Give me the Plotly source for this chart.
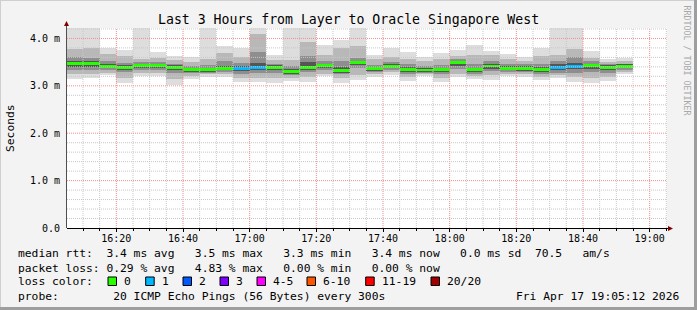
import plotly.graph_objects as go
import pandas as pd

# ---------------- data ----------------
bin_start = pd.date_range("2026-04-17 16:05:00", periods=34, freq="5min")

median_ms = [3.47, 3.47, 3.41, 3.39, 3.43, 3.43, 3.39, 3.34, 3.34, 3.37, 3.36, 3.39, 3.39, 3.30, 3.39, 3.43, 3.32,
             3.49, 3.36, 3.41, 3.34, 3.33, 3.34, 3.49, 3.34, 3.42, 3.37, 3.37, 3.34, 3.39, 3.41, 3.43, 3.39, 3.41]
loss_pings = [0, 0, 0, 0, 0, 0, 0, 0, 0, 0, 1, 1, 0, 0, 0, 0, 0,
              0, 0, 0, 0, 0, 0, 0, 0, 0, 0, 0, 0, 1, 1, 0, 0, 0]
ping_max = [4.30, 4.30, 3.80, 3.76, 4.30, 3.72, 3.62, 3.60, 4.30, 3.85, 3.79, 4.30, 3.65, 4.30, 4.30, 3.87, 3.96,
            4.30, 3.65, 3.79, 3.71, 3.61, 3.69, 3.75, 3.86, 3.74, 3.67, 3.60, 3.79, 4.30, 4.30, 3.74, 3.57, 3.58]
ping_min = [3.14, 3.16, 3.22, 3.05, 3.21, 3.21, 3.01, 3.14, 3.19, 3.18, 3.09, 3.08, 3.06, 3.11, 3.09, 3.20, 3.07,
            3.13, 3.18, 3.23, 3.10, 3.20, 3.09, 3.18, 3.14, 3.13, 3.20, 3.19, 3.12, 3.16, 3.09, 3.07, 3.10, 3.24]
band2_hi = [3.78, 3.80, 3.68, 3.62, 3.57, 3.58, 3.55, 3.50, 3.57, 3.69, 3.60, 4.09, 3.55, 3.55, 3.92, 3.64, 3.80,
            3.85, 3.57, 3.61, 3.57, 3.52, 3.57, 3.62, 3.64, 3.64, 3.57, 3.53, 3.62, 3.66, 3.78, 3.58, 3.50, 3.52]
band2_lo = [3.24, 3.24, 3.27, 3.17, 3.27, 3.27, 3.14, 3.20, 3.24, 3.24, 3.16, 3.16, 3.16, 3.17, 3.18, 3.26, 3.16,
            3.22, 3.24, 3.29, 3.19, 3.24, 3.17, 3.25, 3.21, 3.22, 3.25, 3.24, 3.19, 3.22, 3.18, 3.16, 3.18, 3.29]
band3_hi = [3.60, 3.58, 3.52, 3.48, 3.50, 3.50, 3.46, 3.42, 3.44, 3.52, 3.48, 3.72, 3.47, 3.42, 3.62, 3.52, 3.52,
            3.58, 3.44, 3.50, 3.45, 3.42, 3.44, 3.56, 3.47, 3.52, 3.47, 3.45, 3.46, 3.52, 3.60, 3.52, 3.45, 3.47]
band3_lo = [3.34, 3.33, 3.33, 3.29, 3.34, 3.34, 3.28, 3.27, 3.28, 3.30, 3.26, 3.27, 3.28, 3.23, 3.29, 3.33, 3.24,
            3.37, 3.29, 3.34, 3.26, 3.27, 3.25, 3.36, 3.26, 3.32, 3.30, 3.29, 3.25, 3.28, 3.28, 3.30, 3.28, 3.34]
band4_hi = [3.52, 3.52, 3.46, 3.44, 3.47, 3.47, 3.43, 3.38, 3.38, 3.42, 3.41, 3.48, 3.43, 3.36, 3.50, 3.47, 3.40,
            3.53, 3.40, 3.45, 3.39, 3.37, 3.38, 3.53, 3.38, 3.46, 3.41, 3.41, 3.39, 3.45, 3.48, 3.47, 3.43, 3.45]
band4_lo = [3.40, 3.40, 3.37, 3.34, 3.38, 3.38, 3.33, 3.30, 3.30, 3.33, 3.31, 3.33, 3.33, 3.26, 3.34, 3.38, 3.28,
            3.43, 3.32, 3.37, 3.30, 3.29, 3.29, 3.42, 3.29, 3.36, 3.33, 3.32, 3.29, 3.33, 3.35, 3.36, 3.33, 3.37]

loss_labels = ["0", "1", "2", "3", "4-5", "6-10", "11-19", "20/20"]
loss_colors = ["#26ff00", "#00b8ff", "#0059ff", "#7e00ff", "#ff00ff", "#ff5500", "#ff0000", "#a10000"]

y_tickvals = [0, 1, 2, 3, 4]
y_ticktext = ["0.0", "1.0 m", "2.0 m", "3.0 m", "4.0 m"]

title_text = "Last 3 Hours from Layer to Oracle Singapore West"
line_rtt = "median rtt:  3.4 ms avg   3.5 ms max   3.3 ms min   3.4 ms now   0.0 ms sd  70.5   am/s"
line_loss = "packet loss: 0.29 % avg   4.83 % max   0.00 % min   0.00 % now"
line_probe = "probe:        20 ICMP Echo Pings (56 Bytes) every 300s"
stamp_text = "Fri Apr 17 19:05:12 2026"
watermark = "RRDTOOL / TOBI OETIKER"

# ---------------- geometry ----------------
W, H = 697, 310
L, R, T, B = 67, 667, 28, 228
t0 = pd.Timestamp("2026-04-17 16:05:12")
t1 = pd.Timestamp("2026-04-17 19:05:12")
YMAX = 4.22
MONO = "DejaVu Sans Mono"


def px(x):
    return (x - L) / (R - L)


def py(y):
    return (B - y) / (B - T)


def sp(s):
    return s.replace(" ", "\u00a0")


centers = [t + pd.Timedelta(minutes=2.5) for t in bin_start]
bw = 300000

fig = go.Figure()
layers = [
    (ping_min, ping_max, "#dddddd"),
    (band2_lo, band2_hi, "#b8b8b8"),
    (band3_lo, band3_hi, "#8e8e8e"),
    (band4_lo, band4_hi, "#555555"),
]
for lo, hi, col in layers:
    fig.add_trace(go.Bar(x=centers, base=lo, y=[h - l for l, h in zip(lo, hi)], width=bw,
                         marker=dict(color=col, line=dict(width=0)), showlegend=False, hoverinfo="skip"))

thick = 0.055
med_cols = [loss_colors[n] for n in loss_pings]
fig.add_trace(go.Bar(x=centers, base=[m - thick / 2 for m in median_ms], y=[thick] * len(median_ms), width=bw,
                     marker=dict(color=med_cols, line=dict(width=0)), showlegend=False, hoverinfo="skip"))

shapes = []
# vertical grid
tt = pd.Timestamp("2026-04-17 16:10:00")
while tt <= t1:
    major = (tt.minute % 20 == 0)
    shapes.append(dict(type="line", xref="x", yref="paper", x0=tt, x1=tt, y0=0, y1=1, layer="above",
                       line=dict(color="#f09090" if major else "#c8c8c8", width=1, dash="1px,1px")))
    tt += pd.Timedelta(minutes=5)
# horizontal grid
for k in range(1, 22):
    v = k * 0.2
    major = (k % 5 == 0)
    shapes.append(dict(type="line", xref="paper", yref="y", x0=0, x1=1, y0=v, y1=v, layer="above",
                       line=dict(color="#f09090" if major else "#c8c8c8", width=1, dash="1px,1px")))
# axes lines
shapes.append(dict(type="line", xref="paper", yref="paper", x0=px(L), x1=px(670), y0=py(B + 0.5), y1=py(B + 0.5),
                   layer="above", line=dict(color="#000000", width=1)))
shapes.append(dict(type="line", xref="paper", yref="paper", x0=px(L - 0.5), x1=px(L - 0.5), y0=py(B), y1=py(23),
                   layer="above", line=dict(color="#505050", width=1)))
# arrows
shapes.append(dict(type="path", xref="paper", yref="paper", layer="above",
                   path=f"M {px(668)} {py(226)} L {px(673)} {py(228.5)} L {px(668)} {py(231)} Z",
                   fillcolor="#800000", line=dict(width=0)))
shapes.append(dict(type="path", xref="paper", yref="paper", layer="above",
                   path=f"M {px(64)} {py(26)} L {px(66.5)} {py(21)} L {px(69)} {py(26)} Z",
                   fillcolor="#800000", line=dict(width=0)))
# border
shapes.append(dict(type="line", xref="paper", yref="paper", x0=px(0), x1=px(W), y0=py(0.5), y1=py(0.5),
                   line=dict(color="#cfcfcf", width=1)))
shapes.append(dict(type="line", xref="paper", yref="paper", x0=px(0.5), x1=px(0.5), y0=py(0), y1=py(H),
                   line=dict(color="#cfcfcf", width=1)))
shapes.append(dict(type="line", xref="paper", yref="paper", x0=px(0), x1=px(W), y0=py(H - 1.5), y1=py(H - 1.5),
                   line=dict(color="#9e9e9e", width=3)))
shapes.append(dict(type="line", xref="paper", yref="paper", x0=px(W - 1.5), x1=px(W - 1.5), y0=py(0), y1=py(H),
                   line=dict(color="#9e9e9e", width=3)))

# legend swatches
sw_left = [108, 145.7, 183, 220, 257, 307, 365.7, 431]
annotations = []
for xl, lab, col in zip(sw_left, loss_labels, loss_colors):
    shapes.append(dict(type="rect", xref="paper", yref="paper", x0=px(xl), x1=px(xl + 8.5), y0=py(277), y1=py(285.5),
                       fillcolor=col, line=dict(color="#000000", width=1)))
    annotations.append(dict(x=px(xl + 14), y=py(281.5), xref="paper", yref="paper", text=sp(lab), showarrow=False,
                            xanchor="left", yanchor="middle", font=dict(family=MONO, size=11.3, color="#000")))

def txt(x, y, s, size=11.3, anchor="left", color="#000", angle=0):
    annotations.append(dict(x=px(x), y=py(y), xref="paper", yref="paper", text=sp(s), showarrow=False,
                            xanchor=anchor, yanchor="middle", textangle=angle,
                            font=dict(family=MONO, size=size, color=color)))

txt(348, 19, title_text, size=13.2, anchor="center")
txt(16, 254, line_rtt)
txt(16, 268, line_loss)
txt(16, 281.5, "loss color:")
txt(16, 296, line_probe)
txt(681, 296, stamp_text, anchor="right")
txt(10, 128, "Seconds", anchor="center", angle=-90)
txt(686.5, 60, watermark, size=8.3, anchor="center", color="#a8a8a8", angle=90)

fig.update_layout(
    width=W, height=H, margin=dict(l=L, r=W - R, t=T, b=H - B, pad=0),
    paper_bgcolor="#f3f3f3", plot_bgcolor="#ffffff",
    barmode="overlay", bargap=0,
    shapes=shapes, annotations=annotations, showlegend=False,
    xaxis=dict(type="date", range=[t0, t1], showgrid=False, zeroline=False, showline=False,
               tickvals=pd.date_range("2026-04-17 16:20", "2026-04-17 19:00", freq="20min"),
               tickformat="%H:%M", ticks="outside", ticklen=3, tickcolor="#000", ticklabelstandoff=-2,
               tickfont=dict(family=MONO, size=10, color="#000"),
               minor=dict(ticks="outside", ticklen=2, dtick=300000, tick0="2026-04-17 16:05", tickcolor="#000",
                          showgrid=False)),
    yaxis=dict(range=[0, YMAX], showgrid=False, zeroline=False, showline=False,
               tickvals=y_tickvals, ticktext=y_ticktext, ticks="", ticklabelstandoff=6,
               tickfont=dict(family=MONO, size=10, color="#000")),
)

fig.write_html("out.html")
